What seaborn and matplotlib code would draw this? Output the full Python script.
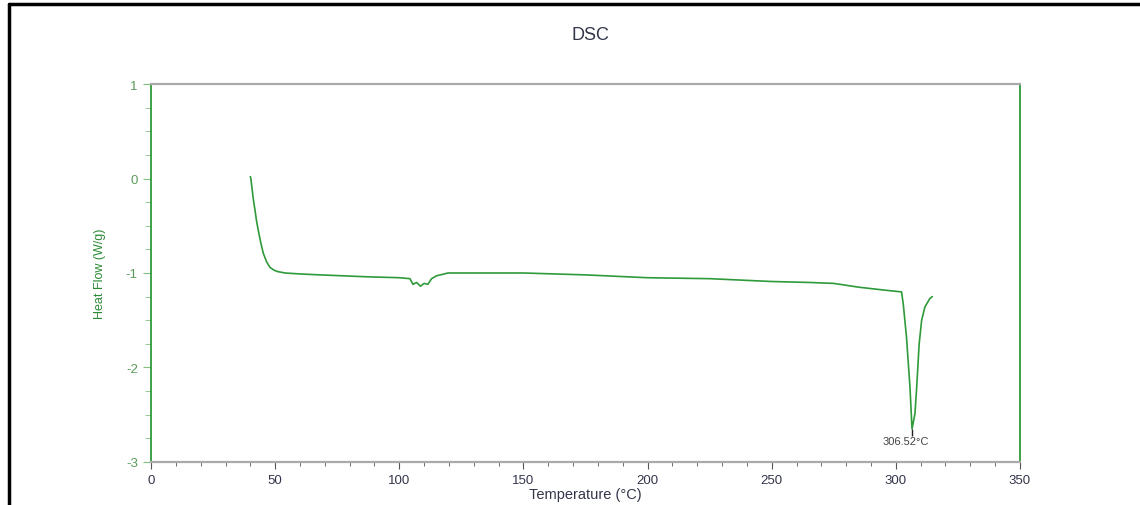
import numpy as np
import pandas as pd
import seaborn as sns
import matplotlib.pyplot as plt
from matplotlib.lines import Line2D
from matplotlib.ticker import MultipleLocator

# DSC trace
temperature = [40.0, 40.2, 40.6, 41.2, 41.9, 42.5, 43.2, 44.2, 45.2, 46.5, 47.9, 49.5, 51.0,
               54.0, 60.0, 68.1, 86.9,
               100.0, 104.3, 105.5, 107.0, 108.5, 110.0, 111.5, 113.0, 115.0, 119.6,
               130.0, 150.0, 175.0, 200.0, 225.0, 250.0, 265.0, 275.0, 285.0, 295.0,
               302.3, 303.0, 304.3, 305.7, 306.52, 307.7, 308.4, 309.4, 310.4, 311.7,
               313.7, 314.7]
heat_flow = [0.02, 0.0, -0.09, -0.22, -0.34, -0.45, -0.55, -0.68, -0.79, -0.88, -0.94, -0.97, -0.985,
             -1.00, -1.01, -1.02, -1.04,
             -1.05, -1.06, -1.12, -1.10, -1.14, -1.11, -1.12, -1.06, -1.03, -1.00,
             -1.00, -1.00, -1.02, -1.05, -1.06, -1.09, -1.10, -1.11, -1.15, -1.18,
             -1.20, -1.33, -1.68, -2.21, -2.65, -2.49, -2.21, -1.75, -1.50, -1.36,
             -1.27, -1.25]
peak_temp = 306.52
peak_flow = -2.65
peak_label = "306.52°C"

green = "#2f9a3a"
text_dark = "#33364a"

sns.set_style("white")
plt.rcParams['font.family'] = ['Liberation Sans', 'DejaVu Sans']
plt.rcParams['axes.unicode_minus'] = False

df = pd.DataFrame({"Temperature": temperature, "HeatFlow": heat_flow})

fig = plt.figure(figsize=(11.4, 5.06), dpi=100)
ax = fig.add_axes([0.1325, 0.085, 0.7622, 0.747])

sns.lineplot(data=df, x="Temperature", y="HeatFlow", sort=False, estimator=None,
             color=green, linewidth=1.2, ax=ax)

# peak marker and label
ax.vlines(peak_temp, peak_flow, peak_flow - 0.07, color="#222222", linewidth=1)
ax.text(peak_temp - 2.5, peak_flow - 0.13, peak_label, fontsize=8, color="#444444",
        ha="center", va="center")

ax.set_xlim(0, 350)
ax.set_ylim(-3, 1)
ax.xaxis.set_major_locator(MultipleLocator(50))
ax.xaxis.set_minor_locator(MultipleLocator(10))
ax.yaxis.set_major_locator(MultipleLocator(1))
ax.yaxis.set_minor_locator(MultipleLocator(0.25))

ax.tick_params(axis="x", which="both", direction="out", bottom=True, colors="#555555",
               labelcolor=text_dark, labelsize=9.5)
ax.tick_params(axis="x", which="major", length=5)
ax.tick_params(axis="x", which="minor", length=3)
ax.tick_params(axis="y", which="both", direction="out", left=True, colors="#7fbf7f",
               labelcolor="#5a9a5a", labelsize=9.5)
ax.tick_params(axis="y", which="major", length=6)
ax.tick_params(axis="y", which="minor", length=4)

for side in ["left", "right"]:
    ax.spines[side].set_color(green)
    ax.spines[side].set_linewidth(1.3)
for side in ["top", "bottom"]:
    ax.spines[side].set_color("#aaaaaa")
    ax.spines[side].set_linewidth(1.6)

ax.set_xlabel("Temperature (°C)", fontsize=10.5, color=text_dark, labelpad=1)
ax.set_ylabel("Heat Flow (W/g)", fontsize=9, color="#2a8a35", labelpad=14)

fig.text(590 / 1140, 1 - 35 / 506, "DSC", fontsize=13, color=text_dark,
         ha="center", va="center")

# page frame lines on left and top
fig.add_artist(Line2D([0.0075, 0.0075], [0, 1 - 5 / 506], color="black", linewidth=2.5))
fig.add_artist(Line2D([0.0075, 1], [1 - 5 / 506, 1 - 5 / 506], color="black", linewidth=2.5))

fig.savefig("out.png", dpi=100, facecolor="white")
